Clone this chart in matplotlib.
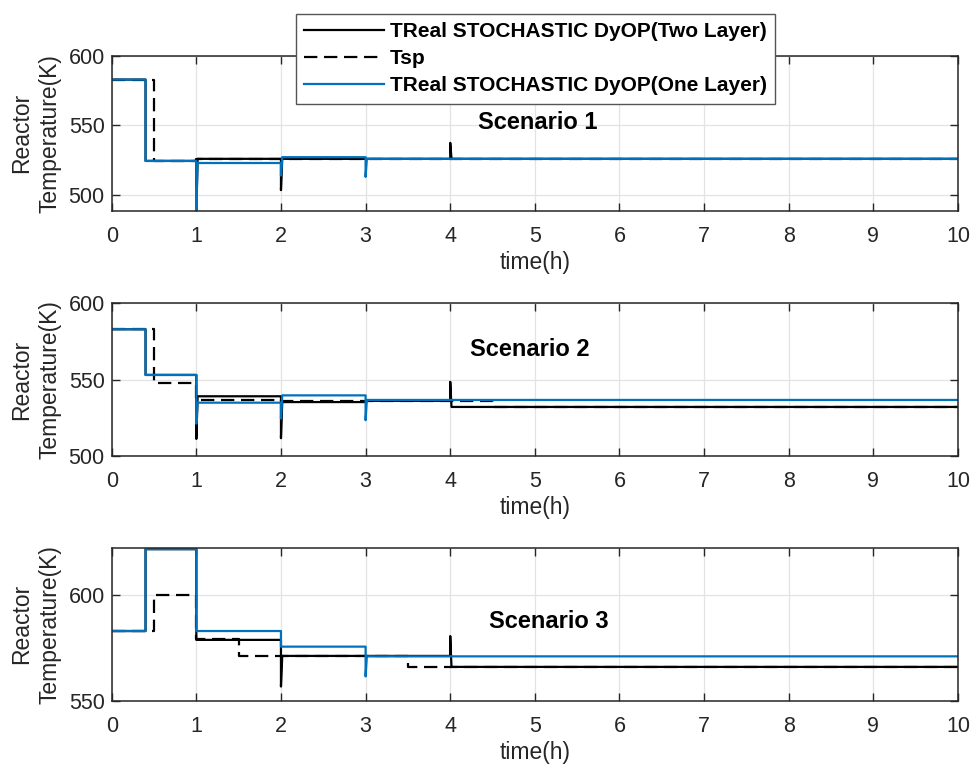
import numpy as np
import matplotlib
matplotlib.use("Agg")
import matplotlib.pyplot as plt

plt.rcParams['font.family'] = ['Liberation Sans', 'DejaVu Sans']

BLUE = '#0072BD'
DARK = '#262626'

# switching times (h) for the controller traces
real_times = [0, 0.4, 1, 2, 3, 4]

# scenario 1
s1_two = [583, 524.5, 526, 526, 526, 526]
s1_two_spk = {1: 489, 2: 503.5, 4: 537.5}
s1_one = [583, 524.5, 523, 527.2, 526, 526]
s1_one_spk = {1: 489, 2: 514, 3: 513}
s1_tsp_t = [0, 0.5, 1, 2]
s1_tsp = [583, 524.5, 526, 526]

# scenario 2
s2_two = [583, 553, 539, 535.2, 536, 532]
s2_two_spk = {1: 511, 2: 511.5, 4: 548.5}
s2_one = [583, 553, 534.8, 539.6, 536.6, 536.6]
s2_one_spk = {1: 521, 2: 524.4, 3: 523.3}
s2_tsp_t = [0, 0.5, 1, 2, 4.5]
s2_tsp = [583, 547.5, 536.6, 535.6, 532]

# scenario 3
s3_two = [583, 621.8, 578.8, 571.2, 571.2, 566]
s3_two_spk = {2: 556.7, 4: 580.6}
s3_one = [583, 621.8, 583, 575.6, 571, 571]
s3_one_spk = {3: 561.5}
s3_tsp_t = [0, 0.5, 1, 1.5, 3.5]
s3_tsp = [583, 600, 579, 571, 566]

scenarios = ['Scenario 1', 'Scenario 2', 'Scenario 3']
ylims = [(488.7, 600), (500, 600), (550, 622.5)]
yticks = [[500, 550, 600], [500, 550, 600], [550, 600]]
text_pos = [(4.33, 551.8), (4.23, 569.6), (4.46, 587.7)]
t_end = 10


def trace(times, levels, spikes=None):
    # step signal with a short transient at each switching time
    spikes = spikes or {}
    t, y = [], []
    for i, (t0, v) in enumerate(zip(times, levels)):
        if i > 0:
            t.append(t0)
            y.append(levels[i - 1])
        if t0 in spikes:
            t += [t0, t0 + 0.015]
            y += [spikes[t0], v]
        else:
            t.append(t0)
            y.append(v)
    t.append(t_end)
    y.append(levels[-1])
    return np.array(t), np.array(y)


data = [
    (s1_two, s1_two_spk, s1_one, s1_one_spk, s1_tsp_t, s1_tsp),
    (s2_two, s2_two_spk, s2_one, s2_one_spk, s2_tsp_t, s2_tsp),
    (s3_two, s3_two_spk, s3_one, s3_one_spk, s3_tsp_t, s3_tsp),
]

fig = plt.figure(figsize=(9.73, 7.65), dpi=100)
rects = [
    [0.1148, 0.7246, 0.8698, 0.2022],
    [0.1148, 0.4043, 0.8698, 0.1992],
    [0.1148, 0.0841, 0.8698, 0.2000],
]

handles = None
for k, (two, two_spk, one, one_spk, tsp_t, tsp) in enumerate(data):
    ax = fig.add_axes(rects[k])
    h1, = ax.plot(*trace(real_times, two, two_spk), color='k', lw=1.6)
    h2, = ax.plot(*trace(tsp_t, tsp), color='k', lw=1.6, dashes=(6, 3))
    h3, = ax.plot(*trace(real_times, one, one_spk), color=BLUE, lw=1.6)
    if handles is None:
        handles = [h1, h2, h3]

    ax.set_xlim(0, t_end)
    ax.set_ylim(*ylims[k])
    ax.set_xticks(range(0, 11))
    ax.set_yticks(yticks[k])
    ax.grid(True, color='#e3e3e3', lw=0.9)
    ax.set_axisbelow(True)
    for sp in ax.spines.values():
        sp.set_color(DARK)
        sp.set_linewidth(1.1)
    ax.tick_params(direction='in', length=6, width=1.0, color=DARK,
                   labelcolor=DARK, labelsize=15.5, top=True, right=True)
    ax.tick_params(axis='x', pad=11)
    ax.tick_params(axis='y', pad=5)
    ax.set_xlabel('time(h)', fontsize=16.5, color=DARK, labelpad=3)
    ax.set_ylabel('Reactor\nTemperature(K)', fontsize=16.5, color=DARK,
                  labelpad=5, linespacing=1.3)
    ax.text(text_pos[k][0], text_pos[k][1], scenarios[k], fontsize=17,
            fontweight='bold', va='center', ha='left')

labels = ['TReal STOCHASTIC DyOP(Two Layer)', 'Tsp',
          'TReal STOCHASTIC DyOP(One Layer)']
leg = fig.legend(handles, labels, loc='upper left',
                 bbox_to_anchor=(296 / 973, 1 - 14 / 765),
                 bbox_transform=fig.transFigure,
                 prop={'size': 15, 'weight': 'bold'},
                 handlelength=3.8, handletextpad=0.3, labelspacing=0.38,
                 borderpad=0.4, borderaxespad=0, fancybox=False,
                 framealpha=1, edgecolor='#555555')
leg.get_frame().set_linewidth(1.0)

fig.savefig('out.png', dpi=100)
